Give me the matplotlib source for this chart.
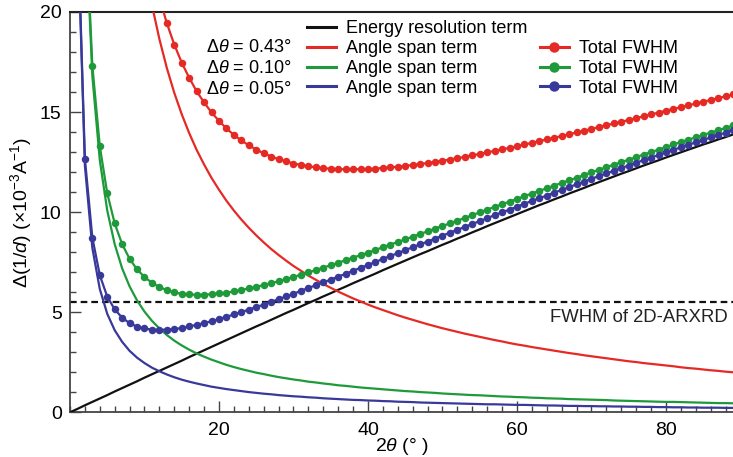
import numpy as np
import matplotlib
matplotlib.use("Agg")
import matplotlib.pyplot as plt
from matplotlib.lines import Line2D

plt.rcParams['font.family'] = ['Liberation Sans', 'DejaVu Sans']
plt.rcParams['mathtext.fontset'] = 'custom'
plt.rcParams['mathtext.rm'] = 'Liberation Sans'
plt.rcParams['mathtext.it'] = 'Liberation Sans:italic'
plt.rcParams['mathtext.bf'] = 'Liberation Sans:bold'

# ---------------- data ----------------
# 2theta (deg), 0..89 step 1
two_theta = list(range(0, 90))

energy_term = [
    0.00, 0.17, 0.35, 0.52, 0.69, 0.86, 1.04, 1.21, 1.38, 1.55,
    1.73, 1.90, 2.07, 2.24, 2.41, 2.58, 2.76, 2.93, 3.10, 3.27,
    3.44, 3.61, 3.78, 3.95, 4.12, 4.29, 4.45, 4.62, 4.79, 4.96,
    5.12, 5.29, 5.46, 5.62, 5.79, 5.95, 6.12, 6.28, 6.45, 6.61,
    6.77, 6.93, 7.10, 7.26, 7.42, 7.58, 7.74, 7.90, 8.05, 8.21,
    8.37, 8.52, 8.68, 8.83, 8.99, 9.14, 9.30, 9.45, 9.60, 9.75,
    9.90, 10.05, 10.20, 10.35, 10.49, 10.64, 10.78, 10.93, 11.07, 11.21,
    11.36, 11.50, 11.64, 11.78, 11.92, 12.05, 12.19, 12.33, 12.46, 12.59,
    12.73, 12.86, 12.99, 13.12, 13.25, 13.38, 13.50, 13.63, 13.75, 13.88,
]

# angle span term, dtheta = 0.43 deg, 2theta = 11..89
angle_043_x = list(range(11, 90))
angle_043 = [
    20.35, 18.65, 17.20, 15.96, 14.89, 13.95, 13.11, 12.38, 11.71,
    11.12, 10.57, 10.08, 9.63, 9.22, 8.84, 8.49, 8.16, 7.86, 7.58,
    7.31, 7.07, 6.83, 6.62, 6.41, 6.22, 6.03, 5.86, 5.69, 5.54,
    5.38, 5.24, 5.11, 4.98, 4.85, 4.73, 4.62, 4.51, 4.40, 4.30,
    4.20, 4.11, 4.02, 3.93, 3.85, 3.77, 3.69, 3.61, 3.54, 3.46,
    3.39, 3.33, 3.26, 3.20, 3.14, 3.08, 3.02, 2.96, 2.91, 2.85,
    2.80, 2.75, 2.70, 2.65, 2.60, 2.55, 2.51, 2.46, 2.42, 2.38,
    2.34, 2.30, 2.25, 2.21, 2.18, 2.14, 2.10, 2.07, 2.03, 2.00,
]

# angle span term, dtheta = 0.10 deg, 2theta = 2..89
angle_010_x = list(range(2, 90))
angle_010 = [
    25.21, 16.80, 12.60, 10.08, 8.40, 7.19, 6.29, 5.59,
    5.03, 4.57, 4.19, 3.86, 3.58, 3.34, 3.13, 2.94, 2.78, 2.63,
    2.50, 2.37, 2.26, 2.16, 2.07, 1.98, 1.91, 1.83, 1.76, 1.70,
    1.64, 1.59, 1.53, 1.49, 1.44, 1.40, 1.35, 1.32, 1.28, 1.24,
    1.21, 1.18, 1.15, 1.12, 1.09, 1.06, 1.04, 1.01, 0.99, 0.97,
    0.94, 0.92, 0.90, 0.88, 0.86, 0.85, 0.83, 0.81, 0.79, 0.78,
    0.76, 0.75, 0.73, 0.72, 0.70, 0.69, 0.68, 0.66, 0.65, 0.64,
    0.63, 0.62, 0.61, 0.59, 0.58, 0.57, 0.56, 0.55, 0.54, 0.53,
    0.52, 0.52, 0.51, 0.50, 0.49, 0.48, 0.47, 0.46, 0.46, 0.45,
]

# angle span term, dtheta = 0.05 deg, 2theta = 1..89
angle_005_x = list(range(1, 90))
angle_005 = [
    24.64, 12.32, 8.21, 6.16, 4.92, 4.10, 3.52, 3.07, 2.73,
    2.46, 2.23, 2.05, 1.89, 1.75, 1.63, 1.53, 1.44, 1.36, 1.28,
    1.22, 1.16, 1.11, 1.06, 1.01, 0.97, 0.93, 0.90, 0.86, 0.83,
    0.80, 0.78, 0.75, 0.73, 0.70, 0.68, 0.66, 0.64, 0.62, 0.61,
    0.59, 0.58, 0.56, 0.55, 0.53, 0.52, 0.51, 0.49, 0.48, 0.47,
    0.46, 0.45, 0.44, 0.43, 0.42, 0.41, 0.40, 0.40, 0.39, 0.38,
    0.37, 0.37, 0.36, 0.35, 0.34, 0.34, 0.33, 0.32, 0.32, 0.31,
    0.31, 0.30, 0.30, 0.29, 0.29, 0.28, 0.28, 0.27, 0.27, 0.26,
    0.26, 0.25, 0.25, 0.24, 0.24, 0.23, 0.23, 0.23, 0.22, 0.22,
]

# total FWHM curves
total_043_x = list(range(12, 90))
total_043 = [
    20.72, 19.44, 18.37, 17.47, 16.71, 16.04, 15.48, 14.98,
    14.56, 14.18, 13.86, 13.58, 13.34, 13.13, 12.94, 12.78, 12.65, 12.54,
    12.43, 12.36, 12.29, 12.24, 12.20, 12.17, 12.15, 12.14, 12.14, 12.15,
    12.15, 12.17, 12.21, 12.24, 12.27, 12.31, 12.36, 12.41, 12.45, 12.51,
    12.57, 12.63, 12.70, 12.76, 12.84, 12.91, 12.99, 13.06, 13.14, 13.21,
    13.29, 13.38, 13.46, 13.55, 13.63, 13.72, 13.80, 13.89, 13.98, 14.06,
    14.16, 14.25, 14.34, 14.43, 14.52, 14.60, 14.70, 14.79, 14.88, 14.97,
    15.07, 15.16, 15.24, 15.33, 15.43, 15.52, 15.60, 15.70, 15.78, 15.88,
]

total_010_x = list(range(2, 90))
total_010 = [
    25.56, 17.32, 13.29, 10.94, 9.44, 8.40, 7.67, 7.14,
    6.76, 6.47, 6.26, 6.10, 5.99, 5.92, 5.89, 5.87, 5.88, 5.90,
    5.94, 5.98, 6.04, 6.11, 6.19, 6.27, 6.36, 6.45, 6.55, 6.66,
    6.76, 6.88, 6.99, 7.11, 7.23, 7.35, 7.47, 7.60, 7.73, 7.85,
    7.98, 8.11, 8.25, 8.38, 8.51, 8.64, 8.78, 8.91, 9.04, 9.18,
    9.31, 9.44, 9.58, 9.71, 9.85, 9.99, 10.13, 10.26, 10.39, 10.53,
    10.66, 10.80, 10.93, 11.07, 11.19, 11.33, 11.46, 11.59, 11.72, 11.85,
    11.99, 12.12, 12.25, 12.37, 12.50, 12.62, 12.75, 12.88, 13.00, 13.12,
    13.25, 13.38, 13.50, 13.62, 13.74, 13.86, 13.97, 14.09, 14.21, 14.33,
]

total_005_x = list(range(1, 90))
total_005 = [
    24.81, 12.67, 8.73, 6.85, 5.78, 5.14, 4.73, 4.45, 4.28,
    4.19, 4.13, 4.12, 4.13, 4.16, 4.21, 4.29, 4.37, 4.46, 4.55,
    4.66, 4.77, 4.89, 5.01, 5.13, 5.26, 5.38, 5.52, 5.65, 5.79,
    5.92, 6.07, 6.21, 6.35, 6.49, 6.63, 6.78, 6.92, 7.07, 7.22,
    7.36, 7.51, 7.66, 7.81, 7.95, 8.10, 8.25, 8.39, 8.53, 8.68,
    8.83, 8.97, 9.12, 9.26, 9.41, 9.55, 9.70, 9.85, 9.99, 10.13,
    10.27, 10.42, 10.56, 10.70, 10.83, 10.98, 11.11, 11.25, 11.39, 11.52,
    11.67, 11.80, 11.94, 12.07, 12.21, 12.33, 12.47, 12.60, 12.73, 12.85,
    12.99, 13.11, 13.24, 13.36, 13.49, 13.61, 13.73, 13.86, 13.97, 14.10,
]

arxrd_fwhm = 5.5
delta_theta_labels = ["0.43°", "0.10°", "0.05°"]

# ---------------- styling ----------------
RED = "#E52A25"
GREEN = "#1F9A3A"
BLUE = "#39399A"
BLACK = "#111111"

W, H = 733, 457
fig = plt.figure(figsize=(W / 100, H / 100), dpi=100)
ax_left, ax_right, ax_top, ax_bottom = 70, 733, 12, 412.3
ax = fig.add_axes([ax_left / W, (H - ax_bottom) / H,
                   (ax_right - ax_left) / W, (ax_bottom - ax_top) / H])

lw = 1.6
ms = 5.4
ax.plot(two_theta, energy_term, color=BLACK, lw=lw, zorder=3)
ax.plot(angle_043_x, angle_043, color=RED, lw=lw, zorder=3)
ax.plot(angle_010_x, angle_010, color=GREEN, lw=lw, zorder=3)
ax.plot(angle_005_x, angle_005, color=BLUE, lw=lw, zorder=3)
ax.plot(total_043_x, total_043, color=RED, lw=lw, marker='o', ms=ms, mew=0, zorder=4)
ax.plot(total_010_x, total_010, color=GREEN, lw=lw, marker='o', ms=ms, mew=0, zorder=4)
ax.plot(total_005_x, total_005, color=BLUE, lw=lw, marker='o', ms=ms, mew=0, zorder=4)

ax.axhline(arxrd_fwhm, color=BLACK, lw=1.6, ls=(0, (3.0, 1.8)), zorder=2)
fig.text(728 / W, 1 - 318 / H, "FWHM of 2D-ARXRD",
         ha='right', va='center', fontsize=13.3, color='#222222')

ax.set_xlim(0, 89.0)
ax.set_ylim(0, 20)
ax.set_xticks([20, 40, 60, 80])
ax.set_xticks(np.arange(0, 90, 2), minor=True)
ax.set_yticks([0, 5, 10, 15, 20])
ax.set_yticks(np.arange(0, 21, 1), minor=True)
ax.tick_params(which='major', direction='in', length=8, width=1.0, labelsize=14,
               color='#444444')
ax.tick_params(axis='x', which='major', pad=7)
ax.tick_params(axis='y', which='major', pad=6)
ax.tick_params(which='minor', direction='in', length=4.3, width=1.0, color='#444444')
ax.tick_params(axis='y', which='both', right=False)
ax.tick_params(axis='x', which='both', top=False)

for side in ['left', 'bottom']:
    ax.spines[side].set_color('#444444')
    ax.spines[side].set_linewidth(1.3)
ax.spines['top'].set_color('#222222')
ax.spines['top'].set_linewidth(1.5)
ax.spines['right'].set_visible(False)

ax.set_xlabel(r"2$\mathit{\theta}$ (° )", fontsize=14, labelpad=-2.5)
ax.set_ylabel(r"$\Delta$(1/$\mathit{d}$) (×10$^{-3}$A$^{-1}$)", fontsize=14, labelpad=4)

# legend
handles = [
    Line2D([], [], color=BLACK, lw=2.2),
    Line2D([], [], color=RED, lw=2.2),
    Line2D([], [], color=GREEN, lw=2.2),
    Line2D([], [], color=BLUE, lw=2.2),
    Line2D([], [], color='none'),
    Line2D([], [], color=RED, lw=2.2, marker='o', ms=7.5, mew=0),
    Line2D([], [], color=GREEN, lw=2.2, marker='o', ms=7.5, mew=0),
    Line2D([], [], color=BLUE, lw=2.2, marker='o', ms=7.5, mew=0),
]
labels = ["Energy resolution term", "Angle span term", "Angle span term", "Angle span term",
          "", "Total FWHM", "Total FWHM", "Total FWHM"]
leg = ax.legend(handles, labels, ncol=2, loc='upper left',
                bbox_to_anchor=((307 - ax_left) / (ax_right - ax_left), 1 - (20.5 - ax_top) / (ax_bottom - ax_top)),
                frameon=False, fontsize=13, handlelength=1.6, handletextpad=0.55,
                labelspacing=0.15, columnspacing=0.7, borderpad=0, borderaxespad=0)

row_y = [48, 68.5, 89]
for lab, yy in zip(delta_theta_labels, row_y):
    fig.text(206 / W, 1 - yy / H, r"$\Delta\mathit{\theta}$ = " + lab,
             ha='left', va='center', fontsize=13)

fig.savefig("out.png", dpi=100)
